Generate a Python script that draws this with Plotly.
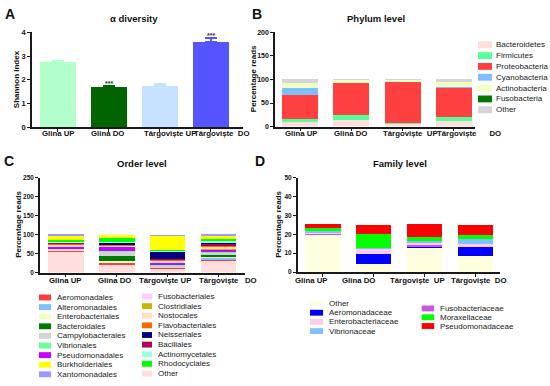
import plotly.graph_objects as go

W, H = 550, 386
FONT = "Liberation Sans"
NB = "\u00a0"

# ---------------- data ----------------
sites = ["Glina UP", "Glina DO", "Târgoviște UP", "Târgoviște DO"]
ticks_A = ["Glina UP", "Glina DO", "Târgoviște UP", "Târgoviște" + NB * 2 + "DO"]
ticks_B = ["Glina UP", "Glina DO", "Târgoviște" + NB * 2 + "UP", "Târgoviște" + NB * 6 + "DO"]
ticks_C = ["Glina UP", "Glina DO", "Târgoviște UP", "Târgoviște" + NB * 3 + "DO"]
ticks_D = ["Glina UP", "Glina DO", "Târgoviște" + NB * 2 + "UP", "Târgoviște" + NB * 2 + "DO"]

# Panel A: alpha diversity
shannon = [2.75, 1.70, 1.75, 3.60]
shannon_err = [0.07, 0.05, 0.06, 0.15]
shannon_sig = ["", "***", "", "***"]
shannon_colors = ["#b3ffcc", "#006400", "#c6e2ff", "#5555ff"]

# Panel B: phylum level (stack order bottom -> top)
phyla = ["Bacteroidetes", "Firmicutes", "Proteobacteria", "Cyanobacteria",
         "Actinobacteria", "Fusobacteria", "Other"]
phylum_colors = ["#ffdede", "#55ff99", "#ff4040", "#7fbfff", "#f2ffc4", "#007700", "#d6d6d6"]
phylum_values = [
    [10.0, 14.0, 6.0, 12.4],   # Bacteroidetes
    [5.5, 10.0, 2.5, 8.2],     # Firmicutes
    [51.0, 69.0, 87.0, 61.0],  # Proteobacteria
    [16.0, 0.5, 0.5, 2.7],     # Cyanobacteria
    [10.0, 5.0, 3.0, 10.3],    # Actinobacteria
    [0.0, 0.5, 0.3, 0.7],      # Fusobacteria
    [7.5, 1.0, 0.7, 4.7],      # Other
]

# Panel C: order level (stack order bottom -> top)
orders = ["Other", "Aeromonadales", "Alteromonadales", "Enterobacteriales", "Bacteroidales",
          "Campylobacterales", "Vibrionales", "Pseudomonadales", "Fusobacteriales",
          "Clostridiales", "Nostocales", "Flavobacteriales", "Bacillales", "Neisseriales",
          "Actinomycetales", "Rhodocyclales", "Burkholderiales", "Xantomonadales"]
order_colors = ["#ffdede", "#ff3b3b", "#7fbfff", "#f2ffc4", "#007a00",
                "#d3d3d3", "#66ff99", "#cc00ff", "#ffccff",
                "#c8b400", "#ffe0c0", "#ff6600", "#b0004f", "#000080",
                "#99ffdd", "#00ff00", "#ffff00", "#9999ff"]
order_values = [
    [56.5, 22.0, 10.0, 31.0],  # Other
    [1.0, 5.0, 3.0, 5.0],      # Aeromonadales
    [1.0, 0.5, 0.5, 1.5],      # Alteromonadales
    [2.0, 4.0, 1.0, 6.0],      # Enterobacteriales
    [0.5, 11.0, 0.5, 2.0],     # Bacteroidales
    [2.0, 13.0, 4.0, 7.0],     # Campylobacterales
    [2.0, 0.5, 0.5, 1.0],      # Vibrionales
    [3.0, 12.0, 7.0, 8.0],     # Pseudomonadales
    [2.0, 0.5, 3.0, 1.0],      # Fusobacteriales
    [0.5, 0.5, 0.5, 0.5],      # Clostridiales
    [3.0, 3.0, 2.0, 4.0],      # Nostocales
    [4.0, 3.0, 3.0, 6.0],      # Flavobacteriales
    [1.0, 0.5, 0.5, 3.0],      # Bacillales
    [0.5, 5.0, 21.0, 3.0],     # Neisseriales
    [4.0, 1.5, 2.5, 6.0],      # Actinomycetales
    [3.0, 10.0, 1.5, 4.0],     # Rhodocyclales
    [12.0, 8.0, 38.5, 9.0],    # Burkholderiales
    [2.0, 0.0, 0.5, 2.0],      # Xantomonadales
]
order_legend_col1 = ["Aeromonadales", "Alteromonadales", "Enterobacteriales", "Bacteroidales",
                     "Campylobacterales", "Vibrionales", "Pseudomonadales", "Burkholderiales",
                     "Xantomonadales"]
order_legend_col2 = ["Fusobacteriales", "Clostridiales", "Nostocales", "Flavobacteriales",
                     "Neisseriales", "Bacillales", "Actinomycetales", "Rhodocyclales", "Other"]

# Panel D: family level (stack order bottom -> top)
families = ["Other", "Aeromonadaceae", "Fusobacteriaceae", "Enterobacteriaceae",
            "Vibrionaceae", "Moraxellaceae", "Pseudomonadaceae"]
family_colors = ["#ffffe0", "#0000ff", "#cc55dd", "#ffccf0", "#80c0ff", "#00ff00", "#ff0000"]
family_values = [
    [20.0, 4.5, 12.6, 8.7],   # Other
    [0.0, 5.2, 1.4, 5.2],     # Aeromonadaceae
    [0.7, 0.0, 0.3, 0.0],     # Fusobacteriaceae
    [0.5, 3.0, 1.8, 0.7],     # Enterobacteriaceae
    [0.9, 0.3, 0.3, 2.7],     # Vibrionaceae
    [1.0, 7.0, 2.4, 2.4],     # Moraxellaceae
    [2.1, 5.0, 6.4, 5.3],     # Pseudomonadaceae
]
family_legend_col1 = ["Other", "Aeromonadaceae", "Enterobacteriaceae", "Vibrionaceae"]
family_legend_col2 = ["Fusobacteriaceae", "Moraxellaceae", "Pseudomonadaceae"]

# ---------------- figure ----------------
fig = go.Figure()
BAR_W = 0.7

for s, v, e, c in zip(sites, shannon, shannon_err, shannon_colors):
    fig.add_trace(go.Bar(
        x=[s], y=[v], width=BAR_W, marker=dict(color=c, line=dict(width=0)),
        error_y=dict(type="data", array=[e], arrayminus=[0], symmetric=False,
                     color=c, thickness=1.5, width=6),
        xaxis="x", yaxis="y", showlegend=False))

for name, col, vals in zip(phyla, phylum_colors, phylum_values):
    fig.add_trace(go.Bar(x=sites, y=vals, name=name, width=BAR_W,
                         marker=dict(color=col, line=dict(width=0)),
                         xaxis="x2", yaxis="y2", showlegend=False))

for name, col, vals in zip(orders, order_colors, order_values):
    fig.add_trace(go.Bar(x=sites, y=vals, name=name, width=BAR_W,
                         marker=dict(color=col, line=dict(width=0)),
                         xaxis="x3", yaxis="y3", showlegend=False))

for name, col, vals in zip(families, family_colors, family_values):
    fig.add_trace(go.Bar(x=sites, y=vals, name=name, width=BAR_W,
                         marker=dict(color=col, line=dict(width=0)),
                         xaxis="x4", yaxis="y4", showlegend=False))

AX = "#1a1a1a"


def xax(px0, px1, rng, anchor):
    return dict(domain=[px0 / W, px1 / W], anchor=anchor, type="category",
                range=rng, tickmode="array", tickvals=sites, showticklabels=False,
                showline=True, linecolor=AX, linewidth=1.5, ticks="outside",
                ticklen=3, tickwidth=1.2, tickcolor=AX, showgrid=False, zeroline=False)


def yax(py0, py1, rng, dtick, anchor, size=7):
    return dict(domain=[1 - py1 / H, 1 - py0 / H], anchor=anchor, range=rng, dtick=dtick,
                showline=True, linecolor=AX, linewidth=1.5, ticks="outside",
                ticklen=3, tickwidth=1.2, tickcolor=AX, showgrid=False, zeroline=False,
                tickfont=dict(family=FONT, size=size, color="#111", weight="bold"))


fig.update_layout(
    width=W, height=H, margin=dict(l=0, r=0, t=0, b=0),
    paper_bgcolor="white", plot_bgcolor="white", barmode="stack", showlegend=False,
    xaxis=xax(32, 243, [-0.51, 3.63], "y"),
    yaxis=yax(29, 126, [0, 4], 1, "x", 7.5),
    xaxis2=xax(275, 475, [-0.49, 3.41], "y2"),
    yaxis2=yax(29, 125.5, [0, 200], 50, "x2"),
    xaxis3=xax(40, 245, [-0.51, 3.52], "y3"),
    yaxis3=yax(178, 275, [0, 250], 50, "x3", 6.5),
    xaxis4=xax(297.7, 500, [-0.49, 3.48], "y4"),
    yaxis4=yax(177.7, 274.5, [0, 50], 10, "x4", 6.5),
)

ann = []
shapes = []


def text(px, py, t, size, bold=False, anchor="center", angle=0, color="#111"):
    ann.append(dict(x=px / W, y=1 - py / H, xref="paper", yref="paper", text=t,
                    showarrow=False, xanchor=anchor, yanchor="middle", textangle=angle,
                    borderpad=0,
                    font=dict(family=FONT, size=size, color=color,
                              weight="bold" if bold else "normal")))


# x category labels (GraphPad-style, left-started slightly before each tick)
def cat_labels(xref, labels, shifts, py):
    for s, lab, sh in zip(sites, labels, shifts):
        ann.append(dict(x=s, xref=xref, y=1 - py / H, yref="paper", text=lab,
                        showarrow=False, xanchor="left", yanchor="middle", xshift=sh,
                        borderpad=0,
                        font=dict(family=FONT, size=7.8, color="#111", weight="bold")))


cat_labels("x", ticks_A, [-17, -19, -17, -18], 132.5)
cat_labels("x2", ticks_B, [-16, -18, -21, -18], 132.5)
cat_labels("x3", ticks_C, [-18, -19.5, -30, -20.5], 283)
cat_labels("x4", ticks_D, [-29, -33, -36, -26], 283)

# panel letters
text(10, 10, "A", 14, True)
text(257, 10, "B", 14, True)
text(9, 161, "C", 14, True)
text(260, 161, "D", 14, True)
# titles
text(134, 15, "α diversity", 9.5, True)
text(376, 15, "Phylum level", 9.5, True)
text(142, 163, "Order level", 9.5, True)
text(400, 163, "Family level", 9.5, True)
# axis titles
text(16, 77, "Shannon index", 8, True, angle=-90)
text(253, 77, "Percentage reads", 8, True, angle=-90)
text(19, 226, "Percentage reads", 8, True, angle=-90)
text(279, 226, "Percentage reads", 8, True, angle=-90)

# significance stars
for s, v, e, sig in zip(sites, shannon, shannon_err, shannon_sig):
    if sig:
        ann.append(dict(x=s, y=v + e, xref="x", yref="y", text=sig, showarrow=False,
                        xanchor="center", yanchor="bottom", yshift=-3,
                        font=dict(family=FONT, size=7, color="#333", weight="bold")))


def legend(names, colors_of, x_sw, sw_w, sw_h, x_txt, y0, step, size=8):
    for i, n in enumerate(names):
        cy = y0 + i * step
        shapes.append(dict(type="rect", xref="paper", yref="paper",
                           x0=x_sw / W, x1=(x_sw + sw_w) / W,
                           y0=1 - (cy + sw_h / 2) / H, y1=1 - (cy - sw_h / 2) / H,
                           fillcolor=colors_of[n], line=dict(width=0)))
        text(x_txt, cy, n, size, False, anchor="left", color="#222")


phy_col = dict(zip(phyla, phylum_colors))
ord_col = dict(zip(orders, order_colors))
fam_col = dict(zip(families, family_colors))

legend(phyla, phy_col, 478, 14, 7, 495, 41.7, 11.1)
legend(order_legend_col1, ord_col, 39, 12, 6, 56, 300.5, 9.83)
legend(order_legend_col2, ord_col, 142, 10, 6, 157, 299.5, 9.85)
legend(family_legend_col1, fam_col, 310, 13, 6, 328, 306.7, 9.4)
legend(family_legend_col2, fam_col, 421.7, 12.5, 6, 439, 311.7, 9.0)

fig.update_layout(annotations=ann, shapes=shapes)
fig.write_html("out.html", config={"displayModeBar": False},
               post_script="document.body.style.margin='0';document.body.style.overflow='hidden';")
